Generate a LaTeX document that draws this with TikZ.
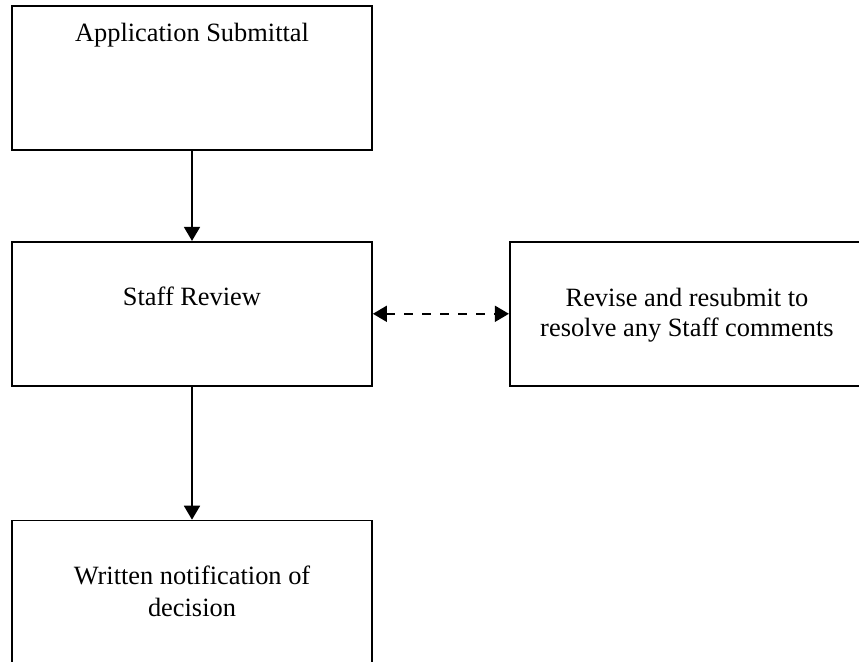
\documentclass[tikz,border=0pt]{standalone}
\usepackage{fontspec}
\setmainfont{Liberation Serif}
\usetikzlibrary{positioning,arrows.meta}
\begin{document}
\begin{tikzpicture}[x=0.5pt,y=-0.5pt,
  stepbox/.style={draw,line width=0.9pt,minimum width=180pt,minimum height=72pt,inner sep=0pt},
  txt/.style={font=\fontsize{13.2}{15}\selectfont,align=center,inner sep=0pt,anchor=base},
  flow/.style={-{Triangle[length=7pt,width=8pt]},line width=0.9pt}]
\useasboundingbox (0,0) rectangle (859,662);
\clip (0,0) rectangle (859,662);
% the boxes
\node[stepbox] (submit) at (192,78) {};
\node[stepbox,below=45pt of submit] (review) {};
\node[stepbox,right=68pt of review,minimum width=240pt] (revise) {};
\node[stepbox,below=66.5pt of review,minimum height=90pt,anchor=north] (decision) {};
% texts in the boxes
\node[txt] (submittxt) at (192,42) {Application Submittal};
\node[txt] (reviewtxt) at (192,306) {Staff Review};
\node[txt] (revisetxt) at (687,337) {Revise and resubmit to\\resolve any Staff comments};
\node[txt,font=\fontsize{13.2}{16}\selectfont] (decisiontxt) at (192,617) {Written notification of\\decision};
% arrows
\draw[flow] (submit) -- (review);
\draw[flow] (review) -- (decision);
\draw[flow,{Triangle[length=7pt,width=8pt]}-{Triangle[length=7pt,width=8pt]},dash pattern=on 4.5pt off 4.5pt] (review) -- (revise);
\end{tikzpicture}
\end{document}
